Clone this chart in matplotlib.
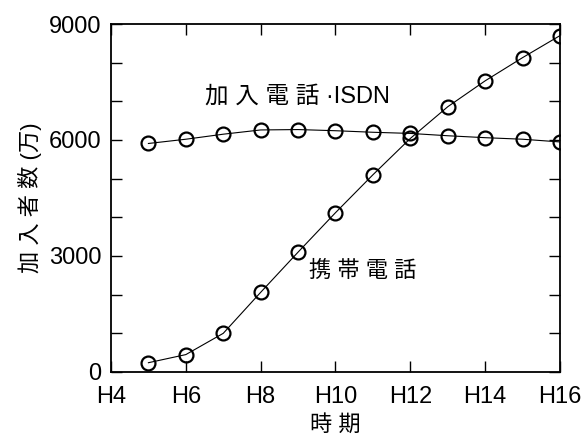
import matplotlib
matplotlib.use('Agg')
import matplotlib.pyplot as plt

plt.rcParams['font.family'] = ['Liberation Sans', 'Noto Sans CJK JP', 'DejaVu Sans']

# years (Heisei), subscribers in 10k units
years = [5, 6, 7, 8, 9, 10, 11, 12, 13, 14, 15, 16]
landline = [5910, 6020, 6150, 6260, 6270, 6240, 6200, 6170, 6110, 6060, 6020, 5950]
mobile = [240, 450, 1000, 2060, 3100, 4120, 5100, 6040, 6860, 7530, 8130, 8700]
xticks = [4, 6, 8, 10, 12, 14, 16]
xlabels = ['H%d' % v for v in xticks]

fig = plt.figure(figsize=(5.83, 4.38), dpi=100)
ax = fig.add_axes([0.1904, 0.1507, 0.7701, 0.7945])

style = dict(color='black', lw=0.8, marker='o', ms=10, mfc='none', mec='black', mew=1.6)
ax.plot(years, landline, **style)
ax.plot(years, mobile, **style)

ax.set_xlim(4, 16)
ax.set_ylim(0, 9000)
ax.set_xticks(xticks)
ax.set_xticklabels(xlabels)
ax.set_yticks([0, 3000, 6000, 9000])
ax.set_yticks(range(0, 9001, 1000), minor=True)
ax.tick_params(which='both', direction='in', top=True, right=True, labelsize=17, width=1, length=8)
ax.tick_params(axis='x', which='minor', top=False, bottom=False)
ax.tick_params(axis='x', pad=10)
ax.tick_params(axis='y', pad=7)
for s in ax.spines.values():
    s.set_linewidth(1.3)

ax.text(8.98, 7112, '加 入 電 話 ·ISDN', fontsize=17, ha='center', va='center')
ax.text(10.74, 2600, '携 帯 電 話', fontsize=16, ha='center', va='center')

ax.set_xlabel('時 期', fontsize=16, labelpad=5)
ax.set_ylabel('加 入 者 数 (万)', fontsize=16, labelpad=5)

plt.savefig('out.png', dpi=100)
